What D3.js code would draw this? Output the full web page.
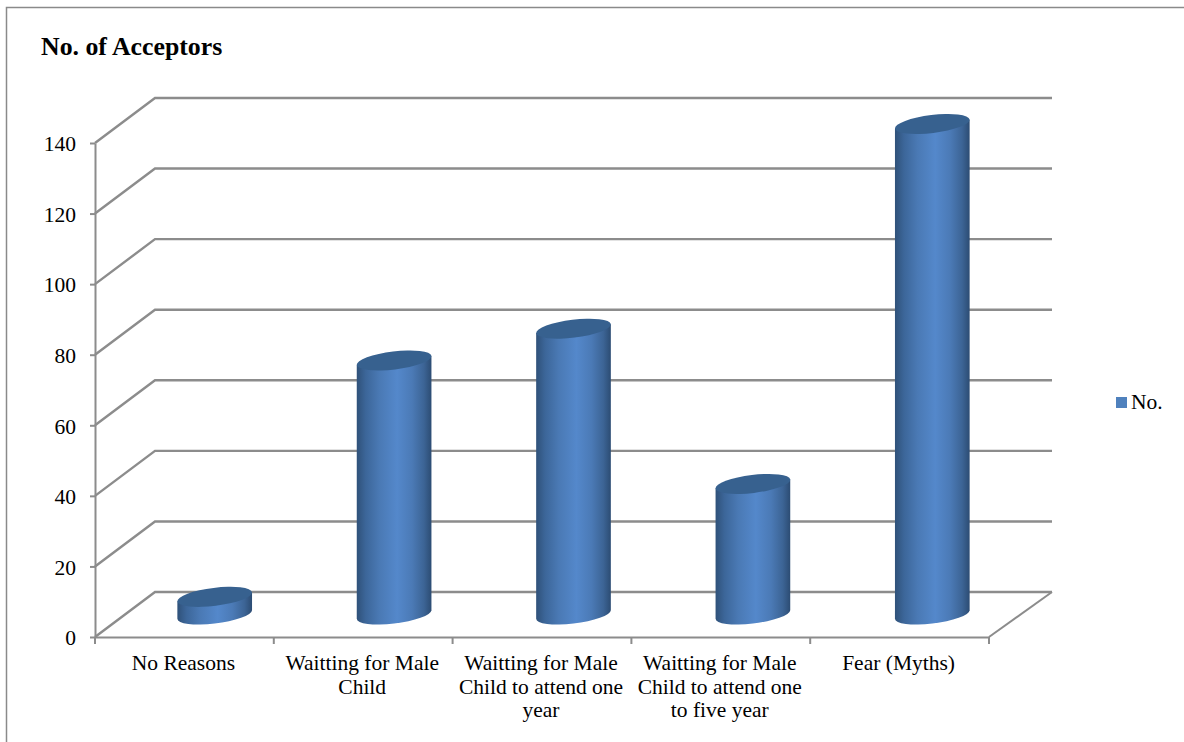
<!DOCTYPE html>
<html>
<head>
<meta charset="utf-8">
<title>No. of Acceptors</title>
<script src="https://cdn.jsdelivr.net/npm/d3@7/dist/d3.min.js"></script>
<style>
  html, body { margin: 0; padding: 0; background: #fff; }
  svg { display: block; }
  text { font-family: "Liberation Serif", "Times New Roman", serif; fill: #000; }
</style>
</head>
<body>
<svg id="chart" width="1184" height="742"></svg>
<script>
const categories = [
  "No Reasons",
  "Waitting for Male\nChild",
  "Waitting for Male\nChild to attend one\nyear",
  "Waitting for Male\nChild to attend one\nto five year",
  "Fear (Myths)"
];
const values = [5, 72, 81, 37, 139];
const seriesName = "No.";
const yTicks = [0, 20, 40, 60, 80, 100, 120, 140];
const chartTitle = "No. of Acceptors";

const svg = d3.select("#chart");
const frame = { left: 95, right: 989, bottom: 637, top: 143 };
const depth = { dx: 60, dy: -45 };
const gridColor = "#8c8c8c";

const x = d3.scaleBand().domain(categories).range([frame.left, frame.right]);
// Bars sit halfway into the floor, where the categories spread slightly wider
const xMid = d3.scaleBand().domain(categories)
  .range([frame.left + depth.dx / 2, frame.right + depth.dx / 2 + 3]);
const y = d3.scaleLinear().domain([0, 140]).range([frame.bottom, frame.top]);

// Shading that runs across each cylinder's side
const defs = svg.append("defs");
const shade = defs.append("linearGradient").attr("id", "cyl")
  .attr("x1", 0).attr("x2", 1).attr("y1", 0).attr("y2", 0);
[[0, "#2f5179"], [0.12, "#3c6699"], [0.3, "#4a79b4"], [0.54, "#5488cb"],
 [0.74, "#4b7ab6"], [0.9, "#3c6495"], [1, "#2c4c73"]]
  .forEach(([o, c]) => shade.append("stop").attr("offset", o).attr("stop-color", c));

// Outer chart border (open at the bottom)
svg.append("path")
  .attr("d", "M6.5,742V7.5H1184")
  .attr("fill", "none").attr("stroke", "#8a8a8a").attr("stroke-width", 1.5);

svg.append("text").attr("x", 41).attr("y", 55)
  .attr("font-size", 25.8).attr("font-weight", "bold").text(chartTitle);

// Back wall and side wall gridlines
const grid = svg.append("g").attr("fill", "none")
  .attr("stroke", gridColor).attr("stroke-width", 2.4);
grid.selectAll("path").data(yTicks).join("path")
  .attr("d", d => {
    const yy = y(d);
    return `M${frame.left},${yy}L${frame.left + depth.dx},${yy + depth.dy}L${frame.right + depth.dx + 3},${yy + depth.dy}`;
  });

// Floor's right edge
grid.append("path")
  .attr("d", `M${frame.right},${frame.bottom}L${frame.right + depth.dx + 3},${frame.bottom + depth.dy}`)
  .attr("stroke-width", 2);

// Axes
const yAxis = d3.axisLeft(y).tickValues(yTicks).tickSize(5).tickPadding(14).tickSizeOuter(0);
const gy = svg.append("g").attr("transform", `translate(${frame.left},0)`).call(yAxis);
gy.selectAll("text").attr("font-size", 21.5).attr("dy", "0.36em")
  .style("font-family", '"Liberation Serif", serif').attr("fill", "#000");

const xAxis = d3.axisBottom(x).tickSize(0).tickFormat("").tickSizeOuter(0);
const gx = svg.append("g").attr("transform", `translate(0,${frame.bottom})`).call(xAxis);
gx.selectAll(".tick").remove();
gx.selectAll("line.edge").data(d3.range(categories.length + 1)).join("line")
  .attr("class", "edge")
  .attr("x1", i => frame.left + i * x.bandwidth())
  .attr("x2", i => frame.left + i * x.bandwidth())
  .attr("y1", 0).attr("y2", 7);

[gy, gx].forEach(g => {
  g.selectAll("path.domain, line")
    .attr("stroke", gridColor).attr("stroke-width", 2).attr("fill", "none");
});

// Wrapped category labels
const labels = svg.append("g").attr("text-anchor", "middle").attr("font-size", 21.5);
categories.forEach(c => {
  const t = labels.append("text");
  c.split("\n").forEach((line, i) => {
    t.append("tspan").attr("x", x(c) + x.bandwidth() / 2 - 1)
      .attr("y", 670 + i * 23.7).text(line);
  });
});

// Cylinders: tilted elliptical caps joined by a shaded side
const capRx = 37.6, capRy = 9, capRot = -7;
const rad = capRot * Math.PI / 180;
const tanT = Math.atan2(-capRy * Math.sin(rad), capRx * Math.cos(rad));
const edgeX = capRx * Math.cos(tanT) * Math.cos(rad) - capRy * Math.sin(tanT) * Math.sin(rad);
const edgeY = capRx * Math.cos(tanT) * Math.sin(rad) + capRy * Math.sin(tanT) * Math.cos(rad);
const baseLift = -depth.dy / 2;

const bars = svg.append("g").selectAll("g").data(categories).join("g");
bars.each(function (c, i) {
  const g = d3.select(this);
  const cx = xMid(c) + xMid.bandwidth() / 2;
  const yBase = y(0) - baseLift;
  const yTop = y(values[i]) - baseLift;
  g.append("path")
    .attr("fill", "url(#cyl)")
    .attr("d", `M${cx - edgeX},${yTop - edgeY}` +
      `L${cx - edgeX},${yBase - edgeY}` +
      `A${capRx},${capRy} ${capRot} 0 0 ${cx + edgeX},${yBase + edgeY}` +
      `L${cx + edgeX},${yTop + edgeY}Z`);
  g.append("ellipse")
    .attr("rx", capRx).attr("ry", capRy)
    .attr("transform", `translate(${cx},${yTop}) rotate(${capRot})`)
    .attr("fill", "#37618f");
});

// Legend
const legend = svg.append("g");
legend.append("rect").attr("x", 1116).attr("y", 397).attr("width", 11).attr("height", 11)
  .attr("fill", "#4f81bd");
legend.append("text").attr("x", 1131).attr("y", 409).attr("font-size", 21.5).text(seriesName);
</script>
</body>
</html>
